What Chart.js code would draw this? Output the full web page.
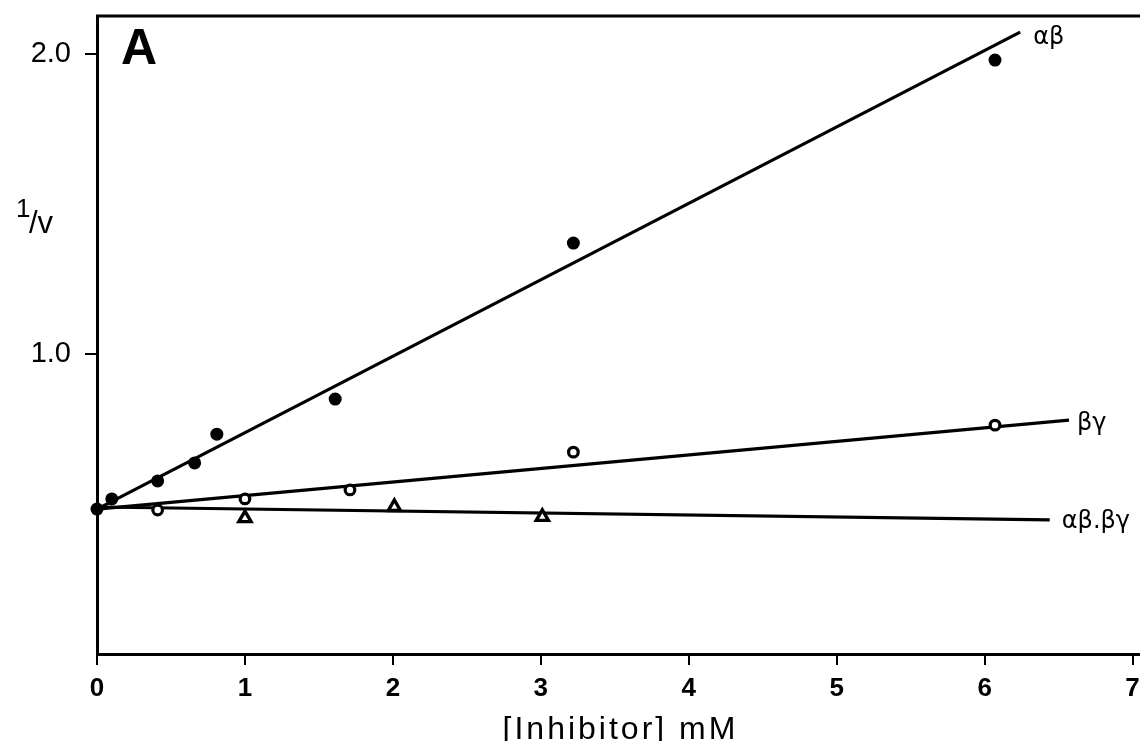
<!DOCTYPE html>
<html>
<head>
<meta charset="utf-8">
<script src="https://cdn.jsdelivr.net/npm/chart.js@4.4.1/dist/chart.umd.min.js"></script>
<style>
  html, body { margin: 0; padding: 0; background: #fff; }
  #wrap { width: 1140px; height: 741px; position: relative; }
</style>
</head>
<body>
<div id="wrap"><canvas id="inhibChart"></canvas></div>
<script>
// measured points, 1/v against inhibitor concentration (mM)
const abX = [0, 0.1, 0.41, 0.66, 0.81, 1.61, 3.22, 6.07];
const abY = [0.483, 0.517, 0.577, 0.637, 0.733, 0.85, 1.37, 1.98];
const bgX = [0.41, 1.0, 1.71, 3.22, 6.07];
const bgY = [0.48, 0.517, 0.547, 0.673, 0.763];
const mixX = [1.0, 2.01, 3.01];
const mixY = [0.453, 0.49, 0.457];

// fitted lines (start and end)
const abFitX = [0, 6.24];
const abFitY = [0.483, 2.073];
const bgFitX = [0, 6.57];
const bgFitY = [0.483, 0.78];
const mixFitX = [0, 6.44];
const mixFitY = [0.49, 0.447];

const lineLabels = ['αβ', 'βγ', 'αβ.βγ'];
const xTicks = [0, 1, 2, 3, 4, 5, 6, 7];
const yTicks = [1.0, 2.0];

const FONT = '"Liberation Sans", Arial, Helvetica, sans-serif';
const GREEK_FONT = '"DejaVu Sans", "Liberation Sans", sans-serif';

function toPoints(xs, ys) {
    return xs.map((x, i) => ({ x: x, y: ys[i] }));
}

function fitLine(xs, ys) {
    return {
        type: 'line',
        data: toPoints(xs, ys),
        borderColor: '#000',
        borderWidth: 3.2,
        pointRadius: 0,
        showLine: true,
        fill: false,
        clip: false,
        order: 2
    };
}

// top frame line, panel letter, y label, x title and line labels
const decorations = {
    id: 'decorations',
    afterDraw(chart) {
        const ctx = chart.ctx;
        const area = chart.chartArea;
        const xs = chart.scales.x;
        const ys = chart.scales.y;
        ctx.save();
        ctx.strokeStyle = '#000';
        ctx.lineWidth = 3;
        ctx.beginPath();
        ctx.moveTo(area.left - 1, area.top);
        ctx.lineTo(area.right, area.top);
        ctx.stroke();

        ctx.fillStyle = '#000';
        ctx.textBaseline = 'alphabetic';
        ctx.textAlign = 'left';

        ctx.font = 'bold 50px ' + FONT;
        ctx.fillText('A', 121, 64);

        ctx.font = '26px ' + FONT;
        ctx.fillText('1', 16, 217);
        ctx.font = '31px ' + FONT;
        ctx.fillText('/v', 29, 233);

        ctx.font = '32px ' + FONT;
        ctx.letterSpacing = '3px';
        ctx.textAlign = 'center';
        ctx.fillText('[Inhibitor] mM', (area.left + area.right) / 2 + 2, 739);
        ctx.letterSpacing = '0px';

        ctx.textAlign = 'left';
        ctx.textBaseline = 'middle';
        ctx.font = '24px ' + GREEK_FONT;
        const ends = [
            [abFitX[1], abFitY[1], 13, 6],
            [bgFitX[1], bgFitY[1], 8, 4],
            [mixFitX[1], mixFitY[1], 12, 2]
        ];
        ends.forEach((e, i) => {
            ctx.fillText(lineLabels[i], xs.getPixelForValue(e[0]) + e[2], ys.getPixelForValue(e[1]) + e[3]);
        });
        ctx.restore();
    }
};

const ctx = document.getElementById('inhibChart').getContext('2d');
new Chart(ctx, {
    type: 'scatter',
    data: {
        datasets: [
            {
                data: toPoints(abX, abY),
                pointStyle: 'circle',
                pointRadius: 6.5,
                backgroundColor: '#000',
                borderColor: '#000',
                borderWidth: 0,
                clip: false,
                order: 0
            },
            {
                data: toPoints(bgX, bgY),
                pointStyle: 'circle',
                pointRadius: 4.8,
                backgroundColor: '#fff',
                borderColor: '#000',
                borderWidth: 3.2,
                clip: false,
                order: 0
            },
            {
                data: toPoints(mixX, mixY),
                pointStyle: 'triangle',
                pointRadius: 7,
                backgroundColor: '#fff',
                borderColor: '#000',
                borderWidth: 3.4,
                clip: false,
                order: 0
            },
            fitLine(abFitX, abFitY),
            fitLine(bgFitX, bgFitY),
            fitLine(mixFitX, mixFitY)
        ]
    },
    options: {
        responsive: true,
        maintainAspectRatio: false,
        animation: false,
        layout: {
            autoPadding: false,
            padding: { top: 16, right: 0, left: 0, bottom: 0 }
        },
        scales: {
            x: {
                type: 'linear',
                min: 0,
                max: 7.05,
                afterBuildTicks: function(scale) {
                    scale.ticks = xTicks.map(v => ({ value: v }));
                },
                afterFit: function(scale) {
                    scale.height = 87;
                    scale.paddingLeft = 0;
                    scale.paddingRight = 0;
                },
                grid: {
                    drawOnChartArea: false,
                    drawTicks: true,
                    tickLength: 11,
                    lineWidth: 2,
                    color: '#000'
                },
                border: { display: true, width: 3, color: '#000' },
                ticks: {
                    color: '#000',
                    padding: 8,
                    maxRotation: 0,
                    autoSkip: false,
                    font: { family: FONT, size: 26, weight: 'bold' },
                    callback: v => String(v)
                }
            },
            y: {
                type: 'linear',
                min: 0,
                max: 2.127,
                afterBuildTicks: function(scale) {
                    scale.ticks = yTicks.map(v => ({ value: v }));
                },
                afterFit: function(scale) {
                    scale.width = 97;
                    scale.paddingTop = 0;
                    scale.paddingBottom = 0;
                },
                grid: {
                    drawOnChartArea: false,
                    drawTicks: true,
                    tickLength: 12,
                    lineWidth: 2,
                    color: '#000'
                },
                border: { display: true, width: 3, color: '#000' },
                ticks: {
                    color: '#000',
                    padding: 14,
                    font: { family: FONT, size: 29 },
                    callback: v => Number(v).toFixed(1)
                }
            }
        },
        plugins: {
            legend: { display: false },
            tooltip: { enabled: false }
        }
    },
    plugins: [decorations]
});
</script>
</body>
</html>
